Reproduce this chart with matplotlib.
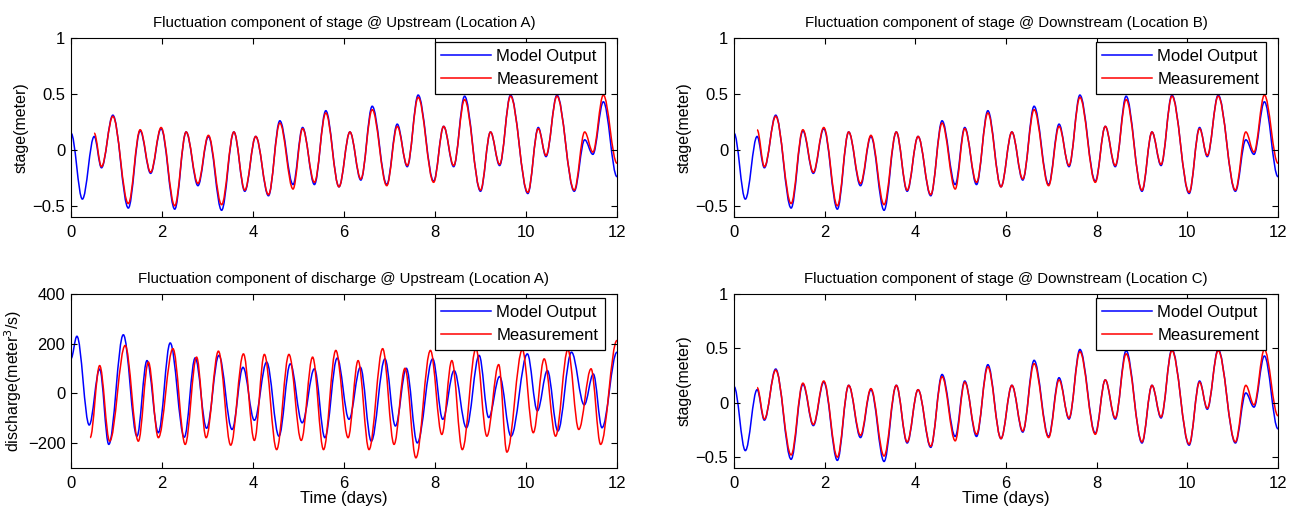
import numpy as np
import matplotlib
matplotlib.use('Agg')
import matplotlib.pyplot as plt
from matplotlib.path import Path
from matplotlib.patches import PathPatch
from matplotlib.lines import Line2D

plt.rcParams['font.family'] = ['Liberation Sans', 'DejaVu Sans']

# ---- stage: peak / trough times (days) ----
stage_t = [0.0, 0.25, 0.51, 0.67, 0.92, 1.26, 1.52, 1.75, 1.98, 2.28, 2.53, 2.79,
           3.02, 3.31, 3.58, 3.82, 4.06, 4.34, 4.59, 4.88, 5.09, 5.35, 5.60, 5.89,
           6.13, 6.37, 6.62, 6.94, 7.17, 7.39, 7.63, 7.97, 8.19, 8.41, 8.65, 9.00,
           9.22, 9.42, 9.66, 10.04, 10.27, 10.44, 10.68, 11.06, 11.29, 11.47, 11.70, 12.0]
stage_model = [0.15, -0.44, 0.12, -0.16, 0.31, -0.52, 0.17, -0.21, 0.19, -0.53, 0.16, -0.32,
               0.12, -0.54, 0.16, -0.37, 0.12, -0.41, 0.26, -0.31, 0.20, -0.31, 0.35, -0.33,
               0.16, -0.27, 0.39, -0.31, 0.23, -0.15, 0.49, -0.28, 0.21, -0.15, 0.48, -0.37,
               0.16, -0.14, 0.49, -0.39, 0.20, -0.06, 0.49, -0.37, 0.09, -0.04, 0.43, -0.24]
# measurement starts half a day in
meas_t = stage_t[2:]
stage_meas = [0.15, -0.15, 0.30, -0.48, 0.18, -0.20, 0.20, -0.50, 0.16, -0.30,
              0.13, -0.49, 0.16, -0.36, 0.12, -0.40, 0.24, -0.35, 0.19, -0.29, 0.33, -0.33,
              0.16, -0.26, 0.36, -0.32, 0.21, -0.14, 0.47, -0.29, 0.21, -0.14, 0.45, -0.36,
              0.16, -0.13, 0.48, -0.38, 0.19, -0.05, 0.48, -0.36, 0.16, -0.02, 0.49, -0.12]
meas_start = {'A': 0.15, 'B': 0.18, 'C': 0.14}

# ---- discharge @ upstream ----
q_model_t = [0.0, 0.13, 0.40, 0.63, 0.83, 1.15, 1.45, 1.67, 1.92, 2.18, 2.49, 2.73, 2.98,
             3.25, 3.54, 3.78, 4.03, 4.30, 4.57, 4.82, 5.08, 5.35, 5.58, 5.85, 6.11,
             6.36, 6.60, 6.90, 7.13, 7.37, 7.61, 7.95, 8.17, 8.42, 8.69, 8.97, 9.18,
             9.42, 9.67, 10.03, 10.25, 10.47, 10.70, 11.00, 11.28, 11.48, 11.67, 12.0]
q_model = [140, 230, -127, 98, -205, 236, -172, 132, -158, 203, -176, 143, -140,
           153, -145, 105, -108, 126, -172, 119, -118, 99, -178, 142, -104,
           105, -192, 139, -131, 101, -199, 139, -104, 92, -138, 153, -97,
           68, -172, 159, -70, 92, -151, 166, -46, 78, -138, 166]
q_meas_t = [0.42, 0.63, 0.85, 1.19, 1.48, 1.70, 1.92, 2.24, 2.51, 2.76, 2.97, 3.24,
            3.51, 3.79, 4.03, 4.25, 4.52, 4.79, 5.06, 5.31, 5.55, 5.82, 6.09, 6.31,
            6.55, 6.85, 7.10, 7.34, 7.58, 7.90, 8.15, 8.37, 8.60, 8.90, 9.14, 9.40,
            9.58, 9.92, 10.16, 10.40, 10.65, 10.92, 11.16, 11.43, 11.64, 12.0]
q_meas = [-178, 112, -192, 193, -192, 126, -178, 180, -205, 146, -178, 170,
          -208, 159, -189, 157, -226, 157, -189, 146, -226, 173, -178, 132,
          -226, 180, -205, 101, -259, 173, -165, 132, -226, 180, -172, 116,
          -236, 176, -158, 139, -172, 176, -145, 99, -205, 213]

titles = ['Fluctuation component of stage @ Upstream (Location A)',
          'Fluctuation component of stage @ Downstream (Location B)',
          'Fluctuation component of discharge @ Upstream (Location A)',
          'Fluctuation component of stage @ Downstream (Location C)']


def smooth_path(t, v, k=0.36):
    # cubic segments between turning points, flat tangents at each one
    verts = [(t[0], v[0])]
    codes = [Path.MOVETO]
    for i in range(len(t) - 1):
        dt = t[i + 1] - t[i]
        verts += [(t[i] + k * dt, v[i]), (t[i + 1] - k * dt, v[i + 1]), (t[i + 1], v[i + 1])]
        codes += [Path.CURVE4] * 3
    return Path(verts, codes)


def draw(ax, t, v, color):
    patch = PathPatch(smooth_path(t, v), facecolor='none', edgecolor=color, lw=1.1)
    ax.add_patch(patch)


W, H = 1293, 513
fig = plt.figure(figsize=(W / 100, H / 100), dpi=100)
boxes = [(71, 38, 617, 217), (734, 38, 1278, 217),
         (71, 294, 617, 468), (734, 294, 1278, 468)]
axes = []
for (x0, y0, x1, y1) in boxes:
    axes.append(fig.add_axes([x0 / W, 1 - y1 / H, (x1 - x0) / W, (y1 - y0) / H]))

for i, ax in enumerate(axes):
    if i == 2:
        draw(ax, q_model_t, q_model, 'blue')
        draw(ax, q_meas_t, q_meas, 'red')
        ax.set_ylim(-300, 400)
        ax.set_yticks([-200, 0, 200, 400])
        ax.set_yticklabels(['\u2212200', '0', '200', '400'])
        ax.set_ylabel('discharge(meter$^3$/s)', fontsize=11.5, labelpad=3)
    else:
        key = {0: 'A', 1: 'B', 3: 'C'}[i]
        draw(ax, stage_t, stage_model, 'blue')
        draw(ax, meas_t, [meas_start[key]] + stage_meas[1:], 'red')
        ax.set_ylim(-0.6, 1)
        ax.set_yticks([-0.5, 0, 0.5, 1])
        ax.set_yticklabels(['\u22120.5', '0', '0.5', '1'])
        ax.set_ylabel('stage(meter)', fontsize=11.5, labelpad=3)
    ax.set_xlim(0, 12)
    ax.set_xticks(range(0, 13, 2))
    ax.tick_params(direction='in', top=True, right=True, labelsize=12, length=4)
    ax.tick_params(axis='x', pad=6)
    ax.tick_params(axis='y', pad=4)
    ax.set_title(titles[i], fontsize=10.8, pad=8)
    if i >= 2:
        ax.set_xlabel('Time (days)', fontsize=12, labelpad=0)
    handles = [Line2D([], [], color='blue', lw=1.1), Line2D([], [], color='red', lw=1.1)]
    leg = ax.legend(handles, ['Model Output', 'Measurement'], loc='upper right',
                    bbox_to_anchor=(1 - 12 / (boxes[i][2] - boxes[i][0]),
                                    1 - 4 / (boxes[i][3] - boxes[i][1])),
                    borderaxespad=0, fontsize=12, handlelength=3.0, fancybox=False,
                    framealpha=1, edgecolor='black', borderpad=0.4,
                    labelspacing=0.5, handletextpad=0.3)
    leg.get_frame().set_linewidth(0.9)

fig.savefig('out.png', dpi=100)
